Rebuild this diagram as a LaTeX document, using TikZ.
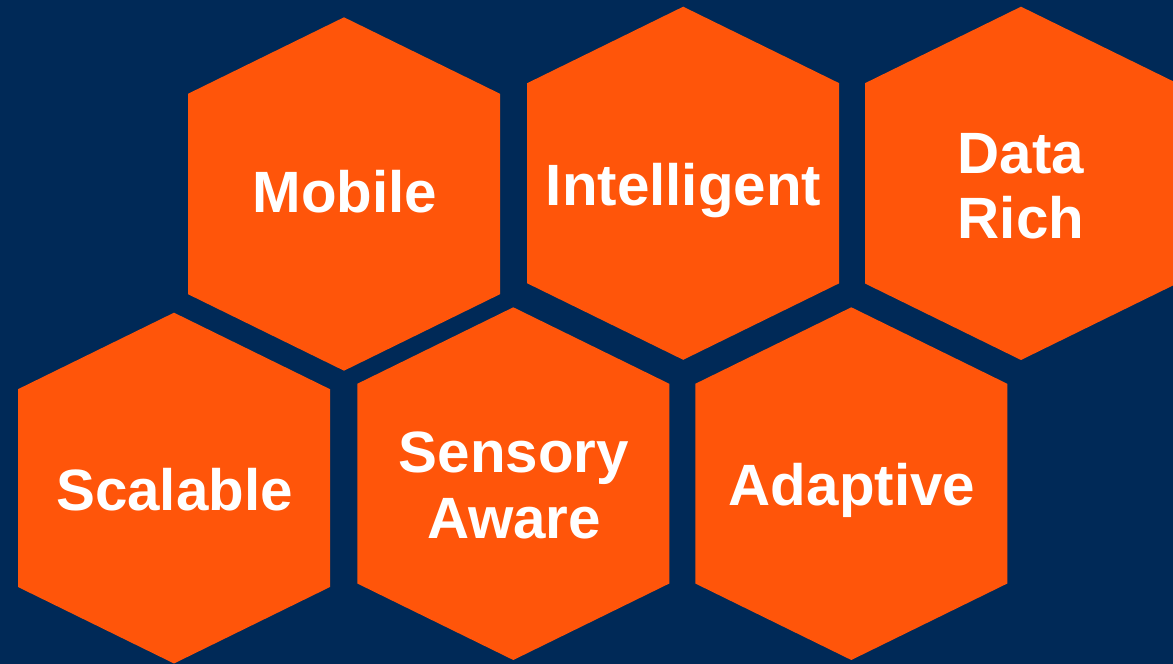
\documentclass[tikz,border=0pt]{standalone}
\usepackage{fontspec}
\setmainfont{Liberation Sans}
\definecolor{navybg}{HTML}{002957}
\definecolor{hexorange}{HTML}{FF550A}
\tikzset{
  hexfill/.style={fill=hexorange, draw=none},
  hexlabel/.style={text=white, font=\bfseries\fontsize{58.3}{65}\selectfont, anchor=base, inner sep=0pt}
}
\begin{document}
\begin{tikzpicture}[x=1pt,y=1pt]
\useasboundingbox (0,0) rectangle (1173,664);
\clip (0,0) rectangle (1173,664);
\fill[navybg] (0,0) rectangle (1173,664);
% hexagons: cx / top (image y) / bottom (image y)
\foreach \cx/\T/\B in {344/17.3/370.7, 683.2/6.7/359.8, 1021/6.7/360, 174/312.7/663.5, 513.3/307.3/660, 851.3/307.3/660}{
  \fill[hexfill] (\cx,664-\T) -- (\cx+156,664-\T-76.5) -- (\cx+156,664-\B+76.5)
    -- (\cx,664-\B) -- (\cx-156,664-\B+76.5) -- (\cx-156,664-\T-76.5) -- cycle;
}
\node[hexlabel] (mobile) at (345,664-212.7) {Mobile};
\node[hexlabel] (intelligent) at (683.5,664-206) {Intelligent};
\node[hexlabel] (data) at (1021,664-173.3) {Data};
\node[hexlabel] (rich) at (1021,664-238.3) {Rich};
\node[hexlabel] (scalable) at (174.5,664-511) {Scalable};
\node[hexlabel] (sensory) at (514,664-473) {Sensory};
\node[hexlabel] (aware) at (514,664-539) {Aware};
\node[hexlabel] (adaptive) at (852,664-506) {Adaptive};
\end{tikzpicture}
\end{document}
